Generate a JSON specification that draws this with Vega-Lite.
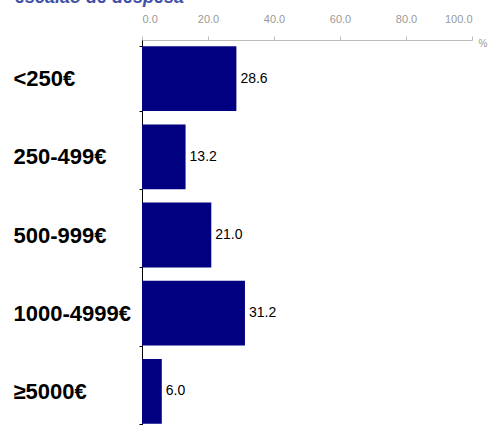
{
  "$schema": "https://vega.github.io/schema/vega-lite/v6.json",
  "width": 330,
  "height": 390,
  "autosize": {"type": "none"},
  "padding": {"left": 142, "top": 40, "right": 17, "bottom": 0},
  "config": {"font": "Liberation Sans", "view": {"stroke": null}},
  "title": {
    "text": "escalão de despesa",
    "anchor": "start",
    "frame": "group",
    "dx": -127,
    "offset": 6,
    "fontSize": 18,
    "fontStyle": "italic",
    "fontWeight": "bold",
    "color": "#3F51A8",
    "font": "Liberation Sans"
  },
  "data": {
    "values": [
      {"escalao": "<250€", "pct": 28.6},
      {"escalao": "250-499€", "pct": 13.2},
      {"escalao": "500-999€", "pct": 21.0},
      {"escalao": "1000-4999€", "pct": 31.2},
      {"escalao": "≥5000€", "pct": 6.0}
    ]
  },
  "encoding": {
    "y": {
      "field": "escalao",
      "type": "nominal",
      "sort": null,
      "scale": {"paddingInner": 0.17, "paddingOuter": 0.08},
      "axis": {
        "title": null,
        "orient": "left",
        "labelFontSize": 22,
        "labelFontWeight": "bold",
        "labelColor": "#000",
        "labelAlign": "left",
        "labelBaseline": "middle",
        "labelPadding": 126,
        "labelLimit": 200,
        "tickBand": "extent",
        "tickSize": 3,
        "tickColor": "#000",
        "domainColor": "#000",
        "grid": false
      }
    },
    "x": {
      "field": "pct",
      "type": "quantitative",
      "scale": {"domain": [0, 100], "nice": false},
      "axis": {
        "orient": "top",
        "values": [0, 20, 40, 60, 80, 100],
        "format": ".1f",
        "labelColor": "#999",
        "labelFontSize": 11,
        "labelPadding": 12,
        "tickSize": 4,
        "tickColor": "#bbb",
        "domainColor": "#bbb",
        "grid": false,
        "title": "%",
        "titleAngle": 0,
        "titleX": 336,
        "titleY": 3,
        "titleAlign": "left",
        "titleBaseline": "middle",
        "titleColor": "#999",
        "titleFontSize": 10,
        "titleFontWeight": "normal"
      }
    }
  },
  "layer": [
    {"mark": {"type": "bar", "color": "#000080"}},
    {
      "mark": {"type": "text", "align": "left", "baseline": "middle", "dx": 4, "fontSize": 14, "color": "#000"},
      "encoding": {"text": {"field": "pct", "type": "quantitative", "format": ".1f"}}
    }
  ]
}
